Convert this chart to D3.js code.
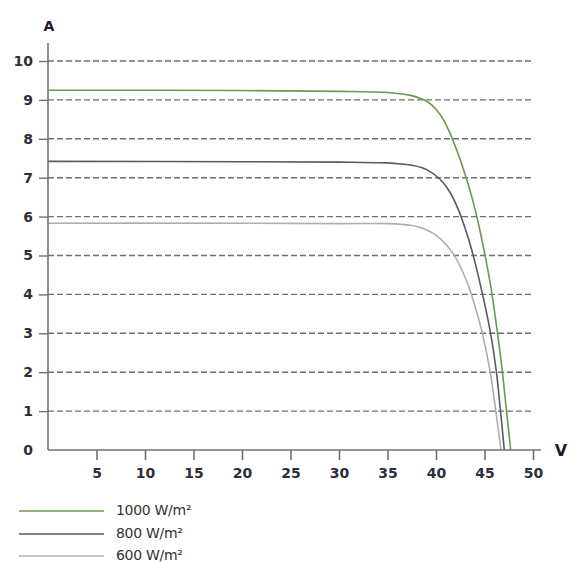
<!DOCTYPE html>
<html>
<head>
<meta charset="utf-8">
<script src="https://cdn.jsdelivr.net/npm/d3@7/dist/d3.min.js"></script>
<style>
  body { margin: 0; background: #fff; }
  svg { display: block; }
  .tick text { font-family: "DejaVu Sans", sans-serif; font-size: 14px; font-weight: bold; fill: #2e2e3a; }
  .legend text { font-family: "DejaVu Sans", sans-serif; font-size: 14px; fill: #333; }
</style>
</head>
<body>
<svg width="570" height="564"></svg>
<script>
// tick values
let xTicks = [5, 10, 15, 20, 25, 30, 35, 40, 45, 50];
let yTicks = [0, 1, 2, 3, 4, 5, 6, 7, 8, 9, 10];

// I-V curves (V, A)
let curve1000 = [
  [0, 9.25], [20, 9.24], [30, 9.22], [35, 9.19], [36.5, 9.15], [37.5, 9.11],
  [38.5, 9.03], [39.3, 8.92], [40.0, 8.76], [40.75, 8.5], [41.45, 8.14],
  [42.3, 7.6], [43.0, 7.08], [43.7, 6.5], [44.3, 5.9], [44.9, 5.2],
  [45.65, 4.2], [46.26, 3.15], [46.8, 2.1], [47.25, 1.05], [47.7, 0]
];
let curve800 = [
  [0, 7.42], [20, 7.41], [30, 7.4], [35, 7.38], [36.5, 7.35], [37.5, 7.32],
  [38.5, 7.26], [39.3, 7.17], [40.0, 7.05], [40.75, 6.87], [41.5, 6.6],
  [42.3, 6.18], [43.0, 5.7], [43.7, 5.13], [44.7, 4.11], [45.57, 3.08],
  [46.2, 2.06], [46.64, 1.03], [47.04, 0]
];
let curve600 = [
  [0, 5.83], [20, 5.83], [30, 5.82], [35, 5.82], [36.5, 5.8], [37.5, 5.77],
  [38.35, 5.72], [39.1, 5.65], [39.7, 5.57], [40.4, 5.44], [41.0, 5.29],
  [41.62, 5.1], [42.15, 4.89], [42.65, 4.64], [43.5, 4.11], [44.1, 3.63],
  [44.7, 3.08], [45.55, 2.06], [46.15, 1.03], [46.7, 0]
];
let seriesNames = ['1000 W/m²', '800 W/m²', '600 W/m²'];
let seriesColors = ['#6a9a4c', '#5a5a62', '#aeaeae'];

let series = [curve1000, curve800, curve600];

let svg = d3.select('svg');

let x0 = 48, x1 = 533, yTop = 61, yBot = 450;

const xScale = d3.scaleLinear().domain([0, 50]).range([x0, x1]);
const yScale = d3.scaleLinear().domain([0, 10]).range([yBot, yTop]);

// dashed grid lines
svg.append('g')
  .selectAll('line')
  .data(yTicks.filter(d => d > 0))
  .enter()
  .append('line')
  .attr('x1', x0)
  .attr('x2', x1)
  .attr('y1', d => yScale(d))
  .attr('y2', d => yScale(d))
  .attr('stroke', '#6e6e74')
  .attr('stroke-width', 1.4)
  .attr('stroke-dasharray', '6,3');

// curves
const line = d3.line()
  .x(d => xScale(d[0]))
  .y(d => yScale(d[1]))
  .curve(d3.curveCatmullRom.alpha(0.5));

svg.append('g')
  .selectAll('path')
  .data(series)
  .enter()
  .append('path')
  .attr('d', line)
  .attr('fill', 'none')
  .attr('stroke', (d, i) => seriesColors[i])
  .attr('stroke-width', 1.6);

// y axis
let yAxis = svg.append('g')
  .attr('transform', `translate(${x0}, 0)`)
  .call(d3.axisLeft(yScale).tickValues(yTicks).tickSize(9).tickPadding(6));
yAxis.select('.domain').remove();
yAxis.selectAll('.tick line').attr('stroke', '#6e6e74').attr('stroke-width', 1.4)
  .filter(d => d === 0).remove();

svg.append('line')
  .attr('x1', x0).attr('x2', x0)
  .attr('y1', 43).attr('y2', yBot)
  .attr('stroke', '#707078').attr('stroke-width', 1.6);

// x axis
let xAxis = svg.append('g')
  .attr('transform', `translate(0, ${yBot})`)
  .call(d3.axisBottom(xScale).tickValues(xTicks).tickSize(10).tickPadding(8));
xAxis.select('.domain').remove();
xAxis.selectAll('.tick line').attr('stroke', '#707078').attr('stroke-width', 1.6);

svg.append('line')
  .attr('x1', x0).attr('x2', 541)
  .attr('y1', yBot).attr('y2', yBot)
  .attr('stroke', '#707078').attr('stroke-width', 1.6);

// axis titles
svg.append('text')
  .attr('x', 49).attr('y', 31)
  .attr('text-anchor', 'middle')
  .attr('font-family', '"DejaVu Sans", sans-serif')
  .attr('font-size', 14)
  .attr('font-weight', 'bold')
  .attr('fill', '#1e1e2a')
  .text('A');

svg.append('text')
  .attr('x', 561).attr('y', 456)
  .attr('text-anchor', 'middle')
  .attr('font-family', '"DejaVu Sans", sans-serif')
  .attr('font-size', 16)
  .attr('font-weight', 'bold')
  .attr('fill', '#1e1e2a')
  .text('V');

// legend
let legendY = [511, 534, 556];
let legend = svg.append('g').attr('class', 'legend')
  .selectAll('g')
  .data(seriesNames)
  .enter()
  .append('g')
  .attr('transform', (d, i) => `translate(0, ${legendY[i]})`);

legend.append('line')
  .attr('x1', 19).attr('x2', 104)
  .attr('stroke', (d, i) => seriesColors[i])
  .attr('stroke-width', 1.6);

legend.append('text')
  .attr('x', 116)
  .attr('y', 0)
  .attr('dy', '0.3em')
  .attr('letter-spacing', '-0.3')
  .text(d => d);
</script>
</body>
</html>
